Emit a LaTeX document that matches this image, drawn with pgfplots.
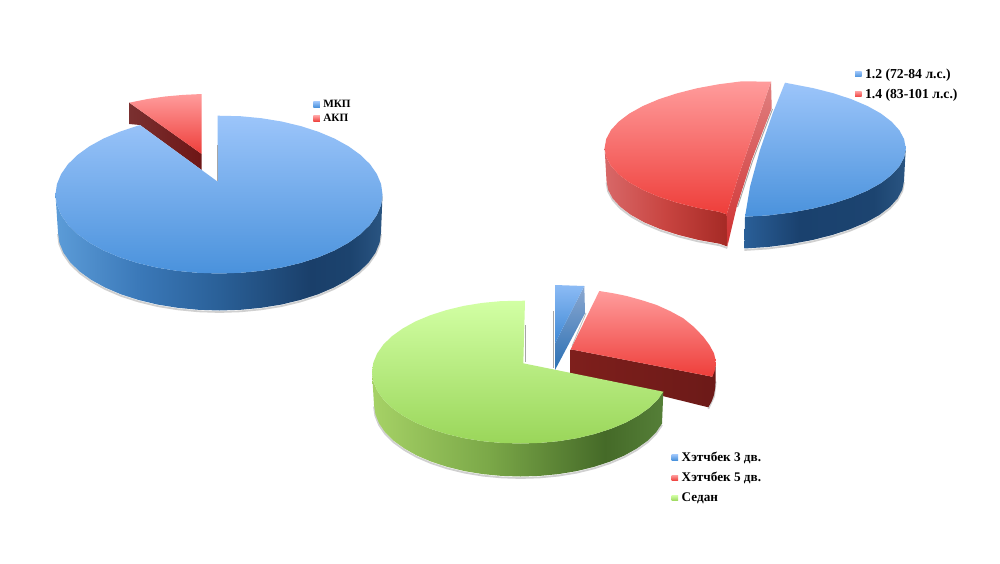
\documentclass[border=0pt]{standalone}
\usepackage{fontspec}
\setmainfont{Liberation Serif}
\usepackage{pgfplots}
\usepackage{pgfplotstable}
\pgfplotsset{compat=1.18}

\definecolor{bluetop}{HTML}{9CC5FA}\definecolor{bluebot}{HTML}{4A92DC}
\definecolor{redtop}{HTML}{FF9C9C}\definecolor{redbot}{HTML}{EE3E3A}
\definecolor{greentop}{HTML}{D2FFA4}\definecolor{greenbot}{HTML}{9AD65A}
\definecolor{shadowc}{HTML}{D0D0D0}
\definecolor{bw1}{HTML}{5C9CD8}\definecolor{bw2}{HTML}{3A78B8}\definecolor{bw3}{HTML}{2A6098}
\definecolor{bw4}{HTML}{1A3F6A}\definecolor{bw5}{HTML}{1C436E}\definecolor{bw6}{HTML}{2A5582}
\definecolor{bx1}{HTML}{2A5F98}\definecolor{bx2}{HTML}{1A416E}\definecolor{bx3}{HTML}{1C4470}
\definecolor{rw1}{HTML}{D86868}\definecolor{rw2}{HTML}{C84440}\definecolor{rw3}{HTML}{A52A25}
\definecolor{gw1}{HTML}{A6D266}\definecolor{gw2}{HTML}{7BA848}\definecolor{gw3}{HTML}{456A28}\definecolor{gw4}{HTML}{557F38}
\definecolor{dr1}{HTML}{7A3030}\definecolor{dr2}{HTML}{6E1616}
\definecolor{dr3}{HTML}{7E1F1C}\definecolor{dr4}{HTML}{6C1A18}
\definecolor{ri1}{HTML}{E08080}\definecolor{ri2}{HTML}{D03030}
\definecolor{bs1}{HTML}{8CBBF5}\definecolor{bs2}{HTML}{3E88D4}
\definecolor{bs3}{HTML}{8CA8D0}\definecolor{bs4}{HTML}{2A70B4}

\pgfdeclarehorizontalshading{bluewall}{100bp}{color(0bp)=(bw1);color(25bp)=(bw1);color(38bp)=(bw2);color(50bp)=(bw3);color(64bp)=(bw4);color(70bp)=(bw5);color(75bp)=(bw6);color(100bp)=(bw6)}
\pgfdeclarehorizontalshading{bluewalltwo}{100bp}{color(0bp)=(bx1);color(25bp)=(bx1);color(42bp)=(bx2);color(65bp)=(bx3);color(75bp)=(bw6);color(100bp)=(bw6)}
\pgfdeclarehorizontalshading{redwall}{100bp}{color(0bp)=(rw1);color(25bp)=(rw1);color(50bp)=(rw2);color(75bp)=(rw3);color(100bp)=(rw3)}
\pgfdeclarehorizontalshading{greenwall}{100bp}{color(0bp)=(gw1);color(25bp)=(gw1);color(45bp)=(gw2);color(65bp)=(gw3);color(75bp)=(gw4);color(100bp)=(gw4)}

\pgfplotsset{
  pieaxis/.style={
    at={(0,0)},anchor=south west,
    width=1000pt,height=563pt,scale only axis,
    xmin=0,xmax=1000,ymin=0,ymax=563,y dir=reverse,
    hide axis,clip=false,
    legend cell align=left,
    legend style={draw=none,fill=none,inner sep=0pt,outer sep=0pt,
      nodes={inner sep=0pt,outer sep=0pt},anchor=north west},
  },
  face/.style={draw=none,no markers,forget plot},
  shadowline/.style={draw=shadowc,line width=1.8pt,no markers,fill=none,forget plot},
  thinline/.style={draw=black!35,line width=0.9pt,no markers,fill=none,forget plot},
  lgblue/.style={legend image code/.code={\path[draw=none,top color=bluetop,bottom color=bluebot] (0pt,-2.8pt) rectangle (6.5pt,2.8pt);}},
  lgred/.style={legend image code/.code={\path[draw=none,top color=redtop,bottom color=redbot] (0pt,-2.8pt) rectangle (6.5pt,2.8pt);}},
  lggreen/.style={legend image code/.code={\path[draw=none,top color=greentop,bottom color=greenbot] (0pt,-2.8pt) rectangle (6.5pt,2.8pt);}},
}

% ---------- pie 1
\pgfplotstableread{
x y
217.7 181.7
217.7 115.7
240.3 116.2
261.3 118.2
281.6 121.5
300.8 126.1
318.5 131.8
334.6 138.6
348.7 146.4
360.6 155
370.1 164.3
376.9 174.1
381.1 184.2
382.5 194.5
381.1 204.8
376.9 214.9
370.1 224.7
360.6 234
348.7 242.6
334.6 250.4
318.5 257.2
300.8 262.9
281.6 267.5
261.3 270.8
240.3 272.8
219 273.5
197.7 272.8
176.7 270.8
156.4 267.5
137.2 262.9
119.5 257.2
103.4 250.4
89.3 242.6
77.4 234
67.9 224.7
61.1 214.9
56.9 204.8
55.5 194.5
56.9 184.2
61.1 174.1
67.9 164.3
77.4 155
89.3 146.4
103.4 138.6
119.5 131.8
140 125
217.7 181.7
}\pieAblue
\pgfplotstableread{
x y
55.5 194.5
56.9 204.8
61.1 214.9
67.9 224.7
77.4 234
89.3 242.6
103.4 250.4
119.5 257.2
137.2 262.9
156.4 267.5
176.7 270.8
197.7 272.8
219 273.5
240.3 272.8
261.3 270.8
281.6 267.5
300.8 262.9
318.5 257.2
334.6 250.4
348.7 242.6
360.6 234
370.1 224.7
376.9 214.9
381.1 204.8
382.5 194.5
381 232.5
379.6 242.7
375.5 252.7
368.7 262.4
359.4 271.5
347.6 280
333.7 287.6
317.8 294.4
300.3 300
281.3 304.6
261.3 307.8
240.6 309.8
219.5 310.5
198.4 309.8
177.7 307.8
157.7 304.6
138.7 300
121.2 294.4
105.3 287.6
91.4 280
79.6 271.5
70.3 262.4
63.5 252.7
59.4 242.7
58 232.5
55.5 194.5
}\pieAbluewall
\pgfplotstableread{
x y
381 232.5
379.6 242.7
375.5 252.7
368.7 262.4
359.4 271.5
347.6 280
333.7 287.6
317.8 294.4
300.3 300
281.3 304.6
261.3 307.8
240.6 309.8
219.5 310.5
198.4 309.8
177.7 307.8
157.7 304.6
138.7 300
121.2 294.4
105.3 287.6
91.4 280
79.6 271.5
70.3 262.4
63.5 252.7
59.4 242.7
58 232.5
}\pieAlow
\pgfplotstableread{
x y
201.7 94
183 94.9
165 96.5
147 99.1
129.3 102.7
201.7 154
201.7 94
}\pieAred
\pgfplotstableread{
x y
129.3 102.7
201.7 154
201.7 170
140 125
129.3 124
129.3 102.7
}\pieAredwall

% ---------- pie 2
\pgfplotstableread{
x y
745 216.7
750 186.7
760 150
772.7 113.3
785 82.7
813 88.1
833.2 93.2
851.4 99.2
867.4 106
880.9 113.5
891.6 121.7
899.4 130.3
904.1 139.2
905.7 148.3
904.1 157.4
899.4 166.3
891.6 174.9
880.9 183.1
867.4 190.6
851.4 197.4
833.2 203.4
813 208.5
791.3 212.5
768.3 215.4
745 216.7
}\pieBblue
\pgfplotstableread{
x y
745 216.7
768.3 215.4
791.3 212.5
813 208.5
833.2 203.4
851.4 197.4
867.4 190.6
880.9 183.1
891.6 174.9
899.4 166.3
904.1 157.4
905.7 148.3
904 180.8
902.2 189.7
897.5 198.5
889.8 207
879.2 215.1
865.9 222.5
850 229.2
832 235.1
812.1 240.1
790.5 244.1
767.8 247
744.3 248.5
745 216.7
}\pieBbluewall
\pgfplotstableread{
x y
904 180.8
902.2 189.7
897.5 198.5
889.8 207
879.2 215.1
865.9 222.5
850 229.2
832 235.1
812.1 240.1
790.5 244.1
767.8 247
744.3 248.5
}\pieBbluelow
\pgfplotstableread{
x y
771 81.7
742 81.3
719 84.2
697.3 88.2
677.1 93.3
658.9 99.2
642.9 106
629.4 113.5
618.7 121.6
610.9 130.1
606.2 139
604.6 148
606.2 157
610.9 165.9
618.7 174.4
629.4 182.5
642.9 190
658.9 196.8
677.1 202.7
697.3 207.8
719 211.8
726.7 214.3
738.3 176.7
753.3 133.3
771 81.7
}\pieBred
\pgfplotstableread{
x y
604.6 148
606.2 157
610.9 165.9
618.7 174.4
629.4 182.5
642.9 190
658.9 196.8
677.1 202.7
697.3 207.8
719 211.8
726.7 214.3
727.3 246.5
719.8 243.8
698.3 239.9
678.3 234.9
660.3 229.1
644.4 222.4
631.1 215
620.5 207
612.8 198.6
608.1 189.9
606.5 181
604.6 148
}\pieBredwall
\pgfplotstableread{
x y
727.3 246.5
719.8 243.8
698.3 239.9
678.3 234.9
660.3 229.1
644.4 222.4
631.1 215
620.5 207
612.8 198.6
608.1 189.9
606.5 181
}\pieBredlow
\pgfplotstableread{
x y
771 81.7
771.7 108.3
751.7 160
736.7 206.7
727.3 246.5
726.7 214.3
738.3 176.7
753.3 133.3
771 81.7
}\pieBredinner

% ---------- pie 3
\pgfplotstableread{
x y
523.3 363.3
525 300.7
501.2 301.1
482.1 302.9
463.7 305.9
446.3 310.1
430.1 315.3
415.5 321.4
402.7 328.5
391.9 336.2
383.3 344.6
377.1 353.5
373.3 362.7
372 372
373.3 381.3
377.1 390.5
383.3 399.4
391.9 407.8
402.7 415.5
415.5 422.6
430.1 428.7
446.3 433.9
463.7 438.1
482.1 441.1
501.2 442.9
520.6 443.5
540 442.9
559.1 441.1
577.5 438.1
594.9 433.9
611.1 428.7
625.7 422.6
638.5 415.5
649.3 407.8
657.9 399.4
663.3 391.7
523.3 363.3
}\pieCgreen
\pgfplotstableread{
x y
372 372
373.3 381.3
377.1 390.5
383.3 399.4
391.9 407.8
402.7 415.5
415.5 422.6
430.1 428.7
446.3 433.9
463.7 438.1
482.1 441.1
501.2 442.9
520.6 443.5
540 442.9
559.1 441.1
577.5 438.1
594.9 433.9
611.1 428.7
625.7 422.6
638.5 415.5
649.3 407.8
657.9 399.4
663.3 391.7
662 423.5
656 432.4
647.5 440.8
636.8 448.5
624.2 455.6
609.8 461.7
593.9 466.9
576.7 471.1
558.5 474.1
539.7 475.9
520.6 476.5
501.5 475.9
482.7 474.1
464.5 471.1
447.3 466.9
431.4 461.7
417 455.6
404.4 448.5
393.7 440.8
385.2 432.4
379.1 423.5
375.4 414.3
374 405
372 372
}\pieCgreenwall
\pgfplotstableread{
x y
662 423.5
656 432.4
647.5 440.8
636.8 448.5
624.2 455.6
609.8 461.7
593.9 466.9
576.7 471.1
558.5 474.1
539.7 475.9
520.6 476.5
501.5 475.9
482.7 474.1
464.5 471.1
447.3 466.9
431.4 461.7
417 455.6
404.4 448.5
393.7 440.8
385.2 432.4
379.1 423.5
375.4 414.3
374 405
}\pieCgreenlow
\pgfplotstableread{
x y
570.7 349.3
599.3 291
613 293.2
626.7 296
641.8 300.2
656.7 305
670.5 311.3
683.3 318.3
694 327
703.3 336.7
709.3 344.8
714 353.3
715.3 359
715.7 365
714.6 371
712.3 376.7
570.7 349.3
}\pieCred
\pgfplotstableread{
x y
570.7 349.3
712.3 376.7
715.7 365
715.7 380
715.2 388
714 395
711.6 401.5
708.3 407.3
570.7 373.3
570.7 349.3
}\pieCredwall
\pgfplotstableread{
x y
555 285
584.3 286
555 343.3
555 285
}\pieCblue
\pgfplotstableread{
x y
584.3 286
585 313.3
555 370
555 343.3
584.3 286
}\pieCbluewall

\begin{document}
\begin{tikzpicture}
\fill[white] (0,0) rectangle (1000pt,563pt);
\path[use as bounding box] (0,0) rectangle (1000pt,563pt);

% ---------- first pie
\begin{axis}[pieaxis,legend style={at={(0.3133,0.8224)},row sep=5.4pt,
    font=\fontsize{11.2}{13}\selectfont\bfseries}]
\addlegendimage{lgblue}\addlegendentry{\hspace{3.5pt}МКП}
\addlegendimage{lgred}\addlegendentry{\hspace{3.5pt}АКП}
\addplot[shadowline,yshift=-1.5pt] table {\pieAlow};
\addplot[face,shading=bluewall] table {\pieAbluewall};
\addplot[face,left color=dr1,right color=dr2] table {\pieAredwall};
\addplot[face,top color=redtop,bottom color=redbot] table {\pieAred};
\addplot[face,top color=bluetop,bottom color=bluebot] table {\pieAblue};
\addplot[thinline] coordinates {(217.5,145) (217.5,181)};
\end{axis}

% ---------- second pie
\begin{axis}[pieaxis,legend style={at={(0.855,0.878)},row sep=9pt,
    font=\fontsize{13.7}{15}\selectfont\bfseries}]
\addlegendimage{lgblue}\addlegendentry{\hspace{3.5pt}1.2 (72-84 л.с.)}
\addlegendimage{lgred}\addlegendentry{\hspace{3.5pt}1.4 (83-101 л.с.)}
\addplot[shadowline,yshift=-1.5pt] table {\pieBbluelow};
\addplot[shadowline,yshift=-1.5pt] table {\pieBredlow};
\addplot[face,shading=bluewalltwo] table {\pieBbluewall};
\addplot[face,shading=redwall] table {\pieBredwall};
\addplot[thinline] coordinates {(772.5,109) (752.5,161) (737.5,207)};
\addplot[face,top color=ri1,bottom color=ri2] table {\pieBredinner};
\addplot[face,top color=redtop,bottom color=redbot] table {\pieBred};
\addplot[face,top color=bluetop,bottom color=bluebot] table {\pieBblue};
\end{axis}

% ---------- third pie
\begin{axis}[pieaxis,legend style={at={(0.6717,0.1975)},row sep=9.6pt,
    font=\fontsize{13.2}{15}\selectfont\bfseries}]
\addlegendimage{lgblue}\addlegendentry{\hspace{3.5pt}Хэтчбек 3 дв.}
\addlegendimage{lgred}\addlegendentry{\hspace{3.5pt}Хэтчбек 5 дв.}
\addlegendimage{lggreen}\addlegendentry{\hspace{3.5pt}Седан}
\addplot[shadowline,yshift=-1.5pt] table {\pieCgreenlow};
\addplot[thinline] coordinates {(553.7,311) (553.7,368)};
\addplot[face,top color=bs3,bottom color=bs4] table {\pieCbluewall};
\addplot[face,top color=bs1,bottom color=bs2] table {\pieCblue};
\addplot[draw=black!25,line width=0.8pt,no markers,forget plot,fill=none] coordinates {(586,313) (572,346)};
\addplot[shadowline,yshift=-1.5pt] coordinates {(715.7,380) (714,395) (708.3,407.3)};
\addplot[face,left color=dr3,right color=dr4] table {\pieCredwall};
\addplot[face,top color=redtop,bottom color=redbot] table {\pieCred};
\addplot[face,shading=greenwall] table {\pieCgreenwall};
\addplot[face,top color=greentop,bottom color=greenbot] table {\pieCgreen};
\addplot[thinline] coordinates {(525.5,325) (525.5,362)};
\end{axis}
\end{tikzpicture}
\end{document}
